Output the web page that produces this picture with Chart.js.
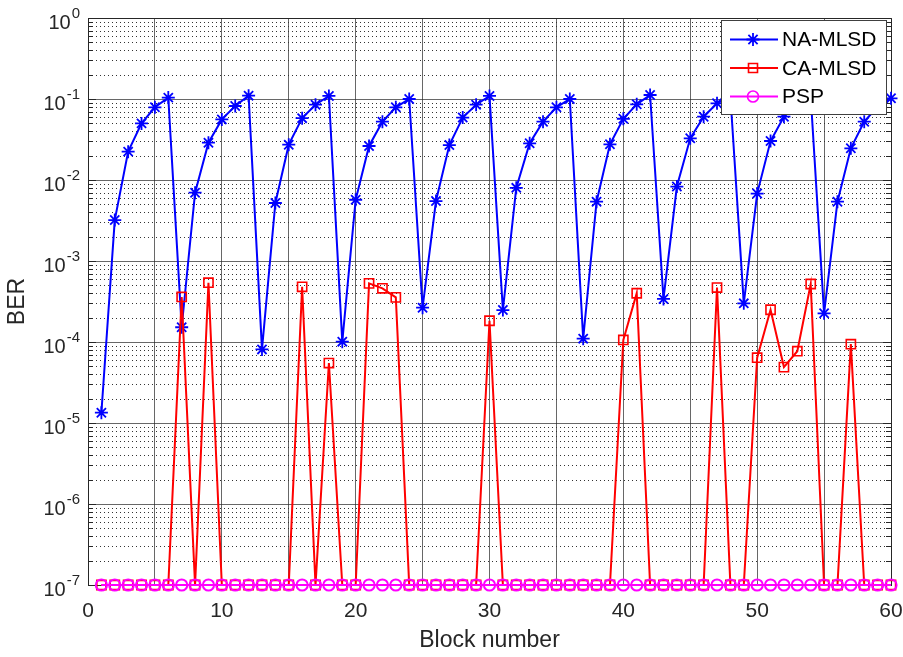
<!DOCTYPE html>
<html lang="en">
<head>
<meta charset="UTF-8">
<title>BER per block</title>
<script src="https://cdnjs.cloudflare.com/ajax/libs/Chart.js/4.4.1/chart.umd.min.js"></script>
<style>
  html, body { margin: 0; padding: 0; background: #fff; }
  #chart { display: block; }
</style>
</head>
<body>
<canvas id="chart" width="903" height="657"></canvas>
<script>
// values
const blockNumbers = [1, 2, 3, 4, 5, 6, 7, 8, 9, 10, 11, 12, 13, 14, 15, 16, 17, 18, 19, 20,
  21, 22, 23, 24, 25, 26, 27, 28, 29, 30, 31, 32, 33, 34, 35, 36, 37, 38, 39, 40,
  41, 42, 43, 44, 45, 46, 47, 48, 49, 50, 51, 52, 53, 54, 55, 56, 57, 58, 59, 60];

const naMlsd = [1.34e-5, 3.2e-3, 0.0224, 0.050, 0.079, 0.104, 1.52e-4, 6.97e-3, 0.0289, 0.056,
  0.082, 0.110, 8.1e-5, 5.2e-3, 0.0273, 0.058, 0.085, 0.109, 1.01e-4, 5.7e-3,
  0.0263, 0.0525, 0.079, 0.100, 2.65e-4, 5.5e-3, 0.027, 0.059, 0.085, 0.109,
  2.48e-4, 8.0e-3, 0.0284, 0.0525, 0.079, 0.100, 1.1e-4, 5.4e-3, 0.0276, 0.057,
  0.086, 0.112, 3.4e-4, 8.3e-3, 0.0327, 0.0605, 0.0885, 0.108, 3.0e-4, 6.8e-3,
  0.0303, 0.0605, 0.085, 0.108, 2.26e-4, 5.4e-3, 0.0246, 0.0525, 0.080, 0.102];

const caMlsd = [1e-7, 1e-7, 1e-7, 1e-7, 1e-7, 1e-7, 3.6e-4, 1e-7, 5.4e-4, 1e-7,
  1e-7, 1e-7, 1e-7, 1e-7, 1e-7, 4.8e-4, 1e-7, 5.5e-5, 1e-7, 1e-7,
  5.3e-4, 4.6e-4, 3.56e-4, 1e-7, 1e-7, 1e-7, 1e-7, 1e-7, 1e-7, 1.83e-4,
  1e-7, 1e-7, 1e-7, 1e-7, 1e-7, 1e-7, 1e-7, 1e-7, 1e-7, 1.06e-4,
  4.0e-4, 1e-7, 1e-7, 1e-7, 1e-7, 1e-7, 4.7e-4, 1e-7, 1e-7, 6.4e-5,
  2.5e-4, 4.9e-5, 7.7e-5, 5.2e-4, 1e-7, 1e-7, 9.4e-5, 1e-7, 1e-7, 1e-7];

const psp = [1e-7, 1e-7, 1e-7, 1e-7, 1e-7, 1e-7, 1e-7, 1e-7, 1e-7, 1e-7,
  1e-7, 1e-7, 1e-7, 1e-7, 1e-7, 1e-7, 1e-7, 1e-7, 1e-7, 1e-7,
  1e-7, 1e-7, 1e-7, 1e-7, 1e-7, 1e-7, 1e-7, 1e-7, 1e-7, 1e-7,
  1e-7, 1e-7, 1e-7, 1e-7, 1e-7, 1e-7, 1e-7, 1e-7, 1e-7, 1e-7,
  1e-7, 1e-7, 1e-7, 1e-7, 1e-7, 1e-7, 1e-7, 1e-7, 1e-7, 1e-7,
  1e-7, 1e-7, 1e-7, 1e-7, 1e-7, 1e-7, 1e-7, 1e-7, 1e-7, 1e-7];

const seriesNames = ['NA-MLSD', 'CA-MLSD', 'PSP'];
const seriesColors = ['#0000ff', '#ff0000', '#ff00ff'];
const xTickLabels = [0, 10, 20, 30, 40, 50, 60];
const yTickExponents = [-7, -6, -5, -4, -3, -2, -1, 0];

const FONT = '"Liberation Sans", Arial, sans-serif';
const axisColor = '#262626';
const gridColor = 'rgba(38,38,38,0.7)';

function toPoints(values) {
  return blockNumbers.map((b, i) => ({ x: b, y: values[i] }));
}

// dotted minor grid, inside ticks, box, superscript tick labels, legend
const decorations = {
  id: 'decorations',
  beforeDatasetsDraw(chart) {
    const { ctx, chartArea: a, scales: { y } } = chart;
    ctx.save();
    ctx.lineWidth = 1;
    for (let i = 0; i < yTickExponents.length - 1; i++) {
      for (let m = 2; m <= 9; m++) {
        const py = Math.round(y.getPixelForValue(m * Math.pow(10, yTickExponents[i]))) + 0.5;
        ctx.setLineDash([1, 3]);
        ctx.strokeStyle = '#333333';
        ctx.beginPath();
        ctx.moveTo(a.left, py);
        ctx.lineTo(a.right, py);
        ctx.stroke();
        ctx.setLineDash([]);
        ctx.strokeStyle = axisColor;
        ctx.beginPath();
        ctx.moveTo(a.left, py); ctx.lineTo(a.left + 5, py);
        ctx.moveTo(a.right, py); ctx.lineTo(a.right - 5, py);
        ctx.stroke();
      }
    }
    ctx.strokeStyle = axisColor;
    yTickExponents.forEach(e => {
      const py = Math.round(y.getPixelForValue(Math.pow(10, e))) + 0.5;
      ctx.beginPath();
      ctx.moveTo(a.left, py); ctx.lineTo(a.left + 8, py);
      ctx.moveTo(a.right, py); ctx.lineTo(a.right - 8, py);
      ctx.stroke();
    });
    // top and right edges of the box
    ctx.beginPath();
    ctx.moveTo(Math.round(a.left) + 0.5, Math.round(a.top) + 0.5);
    ctx.lineTo(Math.round(a.right) + 0.5, Math.round(a.top) + 0.5);
    ctx.lineTo(Math.round(a.right) + 0.5, Math.round(a.bottom) + 0.5);
    ctx.stroke();
    ctx.restore();
  },
  afterDraw(chart) {
    const { ctx, scales: { y } } = chart;
    ctx.save();
    ctx.fillStyle = axisColor;
    ctx.textAlign = 'right';
    ctx.textBaseline = 'middle';
    const labelRight = 80;
    yTickExponents.forEach(e => {
      const py = y.getPixelForValue(Math.pow(10, e));
      const expText = String(e);
      ctx.font = '15px ' + FONT;
      const w = ctx.measureText(expText).width;
      ctx.fillText(expText, labelRight, py - 4);
      ctx.font = '20px ' + FONT;
      ctx.fillText('10', labelRight - w - 1, py + 5);
    });

    // legend
    const bx = 721.5, by = 20.5, bw = 165, bh = 94;
    ctx.fillStyle = '#ffffff';
    ctx.fillRect(bx, by, bw, bh);
    ctx.strokeStyle = '#404040';
    ctx.lineWidth = 1;
    ctx.strokeRect(bx, by, bw, bh);
    const rows = [39.5, 68, 96.5];
    seriesNames.forEach((name, i) => {
      const cy = rows[i];
      const col = seriesColors[i];
      ctx.strokeStyle = col;
      ctx.lineWidth = 2;
      ctx.beginPath();
      ctx.moveTo(730, cy); ctx.lineTo(778, cy);
      ctx.stroke();
      ctx.lineWidth = i === 0 ? 1.8 : 1.6;
      ctx.beginPath();
      if (i === 0) {
        for (let k = 0; k < 4; k++) {
          const ang = k * Math.PI / 4;
          const dx = Math.cos(ang) * 6.5, dy = Math.sin(ang) * 6.5;
          ctx.moveTo(753 - dx, cy - dy); ctx.lineTo(753 + dx, cy + dy);
        }
      } else if (i === 1) {
        ctx.rect(753 - 4.5, cy - 4.5, 9, 9);
      } else {
        ctx.arc(753, cy, 5.5, 0, Math.PI * 2);
      }
      ctx.stroke();
      ctx.fillStyle = '#000000';
      ctx.textAlign = 'left';
      ctx.textBaseline = 'middle';
      ctx.font = '21px ' + FONT;
      ctx.fillText(name, 782, cy + 1);
    });
    ctx.restore();
  }
};

new Chart(document.getElementById('chart'), {
  type: 'line',
  data: {
    datasets: [
      {
        label: seriesNames[2], data: toPoints(psp), order: 0,
        borderColor: seriesColors[2], borderWidth: 2,
        pointStyle: 'circle', pointRadius: 5.6, pointBorderWidth: 2,
        pointBorderColor: seriesColors[2], pointBackgroundColor: 'rgba(0,0,0,0)',
        clip: false
      },
      {
        label: seriesNames[1], data: toPoints(caMlsd), order: 1,
        borderColor: seriesColors[1], borderWidth: 2,
        pointStyle: 'rect', pointRadius: 6.5, pointBorderWidth: 1.6,
        pointBorderColor: seriesColors[1], pointBackgroundColor: 'rgba(0,0,0,0)',
        clip: false
      },
      {
        label: seriesNames[0], data: toPoints(naMlsd), order: 2,
        borderColor: seriesColors[0], borderWidth: 2,
        pointStyle: 'star', pointRadius: 6.5, pointBorderWidth: 1.8,
        pointBorderColor: seriesColors[0], pointBackgroundColor: seriesColors[0],
        clip: false
      }
    ]
  },
  options: {
    responsive: false,
    animation: false,
    layout: { padding: { top: 18, right: 0, left: 0, bottom: 0 } },
    plugins: { legend: { display: false }, tooltip: { enabled: false } },
    scales: {
      x: {
        type: 'linear', min: 0, max: 60,
        afterFit: s => { s.height = 72; s.paddingLeft = 0; s.paddingRight = 12; },
        ticks: {
          stepSize: 5, autoSkip: false, maxRotation: 0, padding: 14,
          color: axisColor, font: { family: FONT, size: 21 },
          callback: v => xTickLabels.includes(v) ? String(v) : ''
        },
        grid: { color: gridColor, lineWidth: 1, drawTicks: false },
        border: { color: axisColor, width: 1 },
        title: {
          display: true, text: 'Block number', color: axisColor,
          font: { family: FONT, size: 23, lineHeight: 1 },
          padding: { top: 0, bottom: 5 }
        }
      },
      y: {
        type: 'logarithmic', min: 1e-7, max: 1,
        afterFit: s => { s.width = 88; },
        afterBuildTicks: s => { s.ticks = yTickExponents.map(e => ({ value: Math.pow(10, e) })); },
        ticks: { display: false },
        grid: { color: gridColor, lineWidth: 1, drawTicks: false },
        border: { color: axisColor, width: 1 },
        title: {
          display: true, text: 'BER', color: axisColor,
          font: { family: FONT, size: 23, lineHeight: 1 },
          padding: { top: 6, bottom: 0 }
        }
      }
    }
  },
  plugins: [decorations]
});
</script>
</body>
</html>
